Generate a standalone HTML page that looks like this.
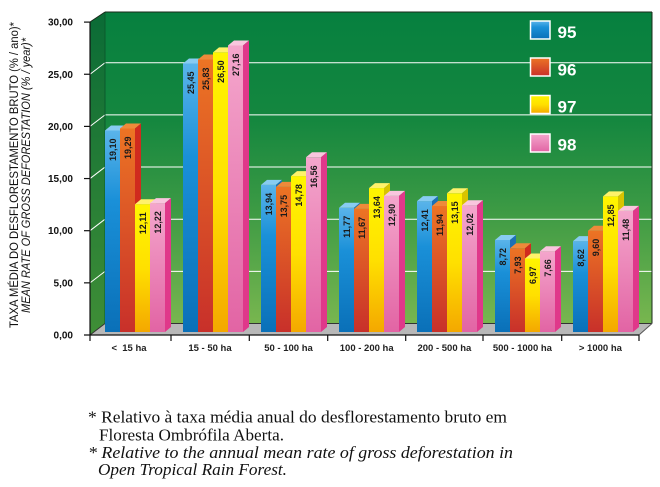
<!DOCTYPE html>
<html><head><meta charset="utf-8"><style>
html,body{margin:0;padding:0;background:#fff;}
svg{display:block;}
.yl{font:bold 10px "Liberation Sans",Arial,sans-serif;fill:#111;text-anchor:end;}
.xl{font:bold 9.5px "Liberation Sans",Arial,sans-serif;fill:#222;text-anchor:middle;}
.bl{font:bold 9px "Liberation Sans",Arial,sans-serif;fill:#1a1a1a;text-anchor:end;}
.lg{font:bold 17px "Liberation Sans",Arial,sans-serif;fill:#fff;}
.ti{font:11.5px "Liberation Sans",Arial,sans-serif;fill:#111;text-anchor:middle;}
.tii{font:italic 11.5px "Liberation Sans",Arial,sans-serif;fill:#111;text-anchor:middle;}
.fn{font:17px "Liberation Serif","Times New Roman",serif;fill:#111;}
.fni{font:italic 17px "Liberation Serif","Times New Roman",serif;fill:#111;}
</style></head><body>
<svg width="660" height="487" viewBox="0 0 660 487" xmlns="http://www.w3.org/2000/svg">
<defs>
<linearGradient id="wall" x1="0" y1="0" x2="0" y2="1">
<stop offset="0" stop-color="#06803f"/><stop offset="0.35" stop-color="#15873f"/><stop offset="0.62" stop-color="#3a9944"/><stop offset="1" stop-color="#78b64f"/>
</linearGradient>
<linearGradient id="side" x1="0" y1="0" x2="0" y2="1">
<stop offset="0" stop-color="#0a6b36"/><stop offset="1" stop-color="#3f8e36"/>
</linearGradient>
<linearGradient id="gb" x1="0" y1="0" x2="0" y2="1">
<stop offset="0" stop-color="#5ab4ea"/><stop offset="0.35" stop-color="#1a90d8"/><stop offset="1" stop-color="#0a70b8"/>
</linearGradient>
<linearGradient id="go" x1="0" y1="0" x2="0" y2="1">
<stop offset="0" stop-color="#ec7424"/><stop offset="1" stop-color="#c8302a"/>
</linearGradient>
<linearGradient id="gy" x1="0" y1="0" x2="0" y2="1">
<stop offset="0" stop-color="#fff500"/><stop offset="0.5" stop-color="#ffe000"/><stop offset="1" stop-color="#f4a800"/>
</linearGradient>
<linearGradient id="gp" x1="0" y1="0" x2="0" y2="1">
<stop offset="0" stop-color="#f4a6cc"/><stop offset="1" stop-color="#e264a4"/>
</linearGradient>
</defs>

<!-- walls -->
<rect x="105" y="12" width="547" height="311.5" fill="url(#wall)"/>
<polygon points="90,22 105,12 105,323.5 90,335" fill="url(#side)"/>
<polygon points="90,335 105,323.5 652,323.5 639,335" fill="#b8b8b8"/>

<!-- gridlines -->
<g stroke="#fff" stroke-width="1">
<line x1="105" y1="271.35" x2="652" y2="271.35"/>
<line x1="105" y1="219.2" x2="652" y2="219.2"/>
<line x1="105" y1="167.05" x2="652" y2="167.05"/>
<line x1="105" y1="114.9" x2="652" y2="114.9"/>
<line x1="105" y1="62.75" x2="652" y2="62.75"/>
<line x1="90" y1="282.85" x2="105" y2="271.35"/>
<line x1="90" y1="230.7" x2="105" y2="219.2"/>
<line x1="90" y1="178.55" x2="105" y2="167.05"/>
<line x1="90" y1="126.4" x2="105" y2="114.9"/>
<line x1="90" y1="74.25" x2="105" y2="62.75"/>
</g>
<g fill="none" stroke-width="1">
<line x1="105" y1="12" x2="105" y2="323.5" stroke="#0a5a2c"/>
<line x1="105" y1="12" x2="652" y2="12" stroke="#1a2a1a"/>
<line x1="652" y1="12" x2="652" y2="323.5" stroke="#1a2a1a"/>
<line x1="105" y1="323.5" x2="652" y2="323.5" stroke="#333"/>
<line x1="90" y1="335" x2="105" y2="323.5" stroke="#333"/>
<line x1="90" y1="22" x2="105" y2="12" stroke="#1a2a1a"/>
<line x1="639" y1="335" x2="652" y2="323.5" stroke="#555"/>
</g>

<!-- bars -->
<g transform="translate(105,130.5)"><rect width="15" height="201.5" fill="url(#gb)"/><polygon points="0,0 6,-5 21,-5 15,0" fill="#88ccf2"/><polygon points="15,0 21,-5 21,196.5 15,201.5" fill="#1c70b4"/><text class="bl" transform="translate(10.8,8) rotate(-90)">19,10</text></g>
<g transform="translate(120,128.5)"><rect width="15" height="203.5" fill="url(#go)"/><polygon points="0,0 6,-5 21,-5 15,0" fill="#ee8a3a"/><polygon points="15,0 21,-5 21,198.5 15,203.5" fill="#d02a1e"/><text class="bl" transform="translate(10.8,8) rotate(-90)">19,29</text></g>
<g transform="translate(135,204.2)"><rect width="15" height="127.8" fill="url(#gy)"/><polygon points="0,0 6,-5 21,-5 15,0" fill="#fff26a"/><polygon points="15,0 21,-5 21,122.8 15,127.8" fill="#d8c400"/><text class="bl" transform="translate(10.8,8) rotate(-90)">12,11</text></g>
<g transform="translate(150,203.1)"><rect width="15" height="128.9" fill="url(#gp)"/><polygon points="0,0 6,-5 21,-5 15,0" fill="#f9c6de"/><polygon points="15,0 21,-5 21,123.9 15,128.9" fill="#e0388a"/><text class="bl" transform="translate(10.8,8) rotate(-90)">12,22</text></g>

<g transform="translate(183,63.5)"><rect width="15" height="268.5" fill="url(#gb)"/><polygon points="0,0 6,-5 21,-5 15,0" fill="#88ccf2"/><polygon points="15,0 21,-5 21,263.5 15,268.5" fill="#1c70b4"/><text class="bl" transform="translate(10.8,8) rotate(-90)">25,45</text></g>
<g transform="translate(198,59.5)"><rect width="15" height="272.5" fill="url(#go)"/><polygon points="0,0 6,-5 21,-5 15,0" fill="#ee8a3a"/><polygon points="15,0 21,-5 21,267.5 15,272.5" fill="#d02a1e"/><text class="bl" transform="translate(10.8,8) rotate(-90)">25,83</text></g>
<g transform="translate(213,52.4)"><rect width="15" height="279.6" fill="url(#gy)"/><polygon points="0,0 6,-5 21,-5 15,0" fill="#fff26a"/><polygon points="15,0 21,-5 21,274.6 15,279.6" fill="#d8c400"/><text class="bl" transform="translate(10.8,8) rotate(-90)">26,50</text></g>
<g transform="translate(228,45.5)"><rect width="15" height="286.5" fill="url(#gp)"/><polygon points="0,0 6,-5 21,-5 15,0" fill="#f9c6de"/><polygon points="15,0 21,-5 21,281.5 15,286.5" fill="#e0388a"/><text class="bl" transform="translate(10.8,8) rotate(-90)">27,16</text></g>

<g transform="translate(261,184.9)"><rect width="15" height="147.1" fill="url(#gb)"/><polygon points="0,0 6,-5 21,-5 15,0" fill="#88ccf2"/><polygon points="15,0 21,-5 21,142.1 15,147.1" fill="#1c70b4"/><text class="bl" transform="translate(10.8,8) rotate(-90)">13,94</text></g>
<g transform="translate(276,186.9)"><rect width="15" height="145.1" fill="url(#go)"/><polygon points="0,0 6,-5 21,-5 15,0" fill="#ee8a3a"/><polygon points="15,0 21,-5 21,140.1 15,145.1" fill="#d02a1e"/><text class="bl" transform="translate(10.8,8) rotate(-90)">13,75</text></g>
<g transform="translate(291,176.1)"><rect width="15" height="155.9" fill="url(#gy)"/><polygon points="0,0 6,-5 21,-5 15,0" fill="#fff26a"/><polygon points="15,0 21,-5 21,150.9 15,155.9" fill="#d8c400"/><text class="bl" transform="translate(10.8,8) rotate(-90)">14,78</text></g>
<g transform="translate(306,157.3)"><rect width="15" height="174.7" fill="url(#gp)"/><polygon points="0,0 6,-5 21,-5 15,0" fill="#f9c6de"/><polygon points="15,0 21,-5 21,169.7 15,174.7" fill="#e0388a"/><text class="bl" transform="translate(10.8,8) rotate(-90)">16,56</text></g>

<g transform="translate(339,207.8)"><rect width="15" height="124.2" fill="url(#gb)"/><polygon points="0,0 6,-5 21,-5 15,0" fill="#88ccf2"/><polygon points="15,0 21,-5 21,119.2 15,124.2" fill="#1c70b4"/><text class="bl" transform="translate(10.8,8) rotate(-90)">11,77</text></g>
<g transform="translate(354,208.9)"><rect width="15" height="123.1" fill="url(#go)"/><polygon points="0,0 6,-5 21,-5 15,0" fill="#ee8a3a"/><polygon points="15,0 21,-5 21,118.1 15,123.1" fill="#d02a1e"/><text class="bl" transform="translate(10.8,8) rotate(-90)">11,67</text></g>
<g transform="translate(369,188.1)"><rect width="15" height="143.9" fill="url(#gy)"/><polygon points="0,0 6,-5 21,-5 15,0" fill="#fff26a"/><polygon points="15,0 21,-5 21,138.9 15,143.9" fill="#d8c400"/><text class="bl" transform="translate(10.8,8) rotate(-90)">13,64</text></g>
<g transform="translate(384,195.9)"><rect width="15" height="136.1" fill="url(#gp)"/><polygon points="0,0 6,-5 21,-5 15,0" fill="#f9c6de"/><polygon points="15,0 21,-5 21,131.1 15,136.1" fill="#e0388a"/><text class="bl" transform="translate(10.8,8) rotate(-90)">12,90</text></g>

<g transform="translate(417,201.1)"><rect width="15" height="130.9" fill="url(#gb)"/><polygon points="0,0 6,-5 21,-5 15,0" fill="#88ccf2"/><polygon points="15,0 21,-5 21,125.9 15,130.9" fill="#1c70b4"/><text class="bl" transform="translate(10.8,8) rotate(-90)">12,41</text></g>
<g transform="translate(432,206)"><rect width="15" height="126" fill="url(#go)"/><polygon points="0,0 6,-5 21,-5 15,0" fill="#ee8a3a"/><polygon points="15,0 21,-5 21,121 15,126" fill="#d02a1e"/><text class="bl" transform="translate(10.8,8) rotate(-90)">11,94</text></g>
<g transform="translate(447,193.3)"><rect width="15" height="138.7" fill="url(#gy)"/><polygon points="0,0 6,-5 21,-5 15,0" fill="#fff26a"/><polygon points="15,0 21,-5 21,133.7 15,138.7" fill="#d8c400"/><text class="bl" transform="translate(10.8,8) rotate(-90)">13,15</text></g>
<g transform="translate(462,205.2)"><rect width="15" height="126.8" fill="url(#gp)"/><polygon points="0,0 6,-5 21,-5 15,0" fill="#f9c6de"/><polygon points="15,0 21,-5 21,121.8 15,126.8" fill="#e0388a"/><text class="bl" transform="translate(10.8,8) rotate(-90)">12,02</text></g>

<g transform="translate(495,240)"><rect width="15" height="92" fill="url(#gb)"/><polygon points="0,0 6,-5 21,-5 15,0" fill="#88ccf2"/><polygon points="15,0 21,-5 21,87 15,92" fill="#1c70b4"/><text class="bl" transform="translate(10.8,8) rotate(-90)">8,72</text></g>
<g transform="translate(510,248.3)"><rect width="15" height="83.7" fill="url(#go)"/><polygon points="0,0 6,-5 21,-5 15,0" fill="#ee8a3a"/><polygon points="15,0 21,-5 21,78.7 15,83.7" fill="#d02a1e"/><text class="bl" transform="translate(10.8,8) rotate(-90)">7,93</text></g>
<g transform="translate(525,258.5)"><rect width="15" height="73.5" fill="url(#gy)"/><polygon points="0,0 6,-5 21,-5 15,0" fill="#fff26a"/><polygon points="15,0 21,-5 21,68.5 15,73.5" fill="#d8c400"/><text class="bl" transform="translate(10.8,8) rotate(-90)">6,97</text></g>
<g transform="translate(540,251.2)"><rect width="15" height="80.8" fill="url(#gp)"/><polygon points="0,0 6,-5 21,-5 15,0" fill="#f9c6de"/><polygon points="15,0 21,-5 21,75.8 15,80.8" fill="#e0388a"/><text class="bl" transform="translate(10.8,8) rotate(-90)">7,66</text></g>

<g transform="translate(573,241.1)"><rect width="15" height="90.9" fill="url(#gb)"/><polygon points="0,0 6,-5 21,-5 15,0" fill="#88ccf2"/><polygon points="15,0 21,-5 21,85.9 15,90.9" fill="#1c70b4"/><text class="bl" transform="translate(10.8,8) rotate(-90)">8,62</text></g>
<g transform="translate(588,230.7)"><rect width="15" height="101.3" fill="url(#go)"/><polygon points="0,0 6,-5 21,-5 15,0" fill="#ee8a3a"/><polygon points="15,0 21,-5 21,96.3 15,101.3" fill="#d02a1e"/><text class="bl" transform="translate(10.8,8) rotate(-90)">9,60</text></g>
<g transform="translate(603,196.4)"><rect width="15" height="135.6" fill="url(#gy)"/><polygon points="0,0 6,-5 21,-5 15,0" fill="#fff26a"/><polygon points="15,0 21,-5 21,130.6 15,135.6" fill="#d8c400"/><text class="bl" transform="translate(10.8,8) rotate(-90)">12,85</text></g>
<g transform="translate(618,210.9)"><rect width="15" height="121.1" fill="url(#gp)"/><polygon points="0,0 6,-5 21,-5 15,0" fill="#f9c6de"/><polygon points="15,0 21,-5 21,116.1 15,121.1" fill="#e0388a"/><text class="bl" transform="translate(10.8,8) rotate(-90)">11,48</text></g>

<!-- axes -->
<g stroke="#111" stroke-width="1.2">
<line x1="90" y1="22" x2="90" y2="335"/>
<line x1="84" y1="335" x2="639" y2="335"/>
<line x1="84" y1="22.1" x2="90" y2="22.1"/>
<line x1="84" y1="74.25" x2="90" y2="74.25"/>
<line x1="84" y1="126.4" x2="90" y2="126.4"/>
<line x1="84" y1="178.55" x2="90" y2="178.55"/>
<line x1="84" y1="230.7" x2="90" y2="230.7"/>
<line x1="84" y1="282.85" x2="90" y2="282.85"/>
<line x1="90" y1="335" x2="90" y2="341"/>
<line x1="171" y1="335" x2="171" y2="341"/>
<line x1="249.3" y1="335" x2="249.3" y2="341"/>
<line x1="327.7" y1="335" x2="327.7" y2="341"/>
<line x1="405.7" y1="335" x2="405.7" y2="341"/>
<line x1="483" y1="335" x2="483" y2="341"/>
<line x1="561.7" y1="335" x2="561.7" y2="341"/>
<line x1="639" y1="335" x2="639" y2="341"/>
</g>

<!-- y tick labels -->
<text class="yl" x="73" y="25.6">30,00</text>
<text class="yl" x="73" y="77.8">25,00</text>
<text class="yl" x="73" y="129.9">20,00</text>
<text class="yl" x="73" y="182.1">15,00</text>
<text class="yl" x="73" y="234.2">10,00</text>
<text class="yl" x="73" y="286.4">5,00</text>
<text class="yl" x="73" y="338.5">0,00</text>

<!-- x labels -->
<text class="xl" x="129" y="351" xml:space="preserve">&lt;  15 ha</text>
<text class="xl" x="210" y="351">15 - 50 ha</text>
<text class="xl" x="288.5" y="351">50 - 100 ha</text>
<text class="xl" x="366.7" y="351">100 - 200 ha</text>
<text class="xl" x="444.4" y="351">200 - 500 ha</text>
<text class="xl" x="522.4" y="351">500 - 1000 ha</text>
<text class="xl" x="600.4" y="351">&gt; 1000 ha</text>

<!-- legend -->
<g stroke="#fff" stroke-width="1.5">
<rect x="530.5" y="21" width="19.5" height="18" fill="url(#gb)"/>
<rect x="530.5" y="58" width="19.5" height="18" fill="url(#go)"/>
<rect x="530.5" y="95.5" width="19.5" height="18" fill="url(#gy)"/>
<rect x="530.5" y="134" width="19.5" height="18" fill="url(#gp)"/>
</g>
<text class="lg" x="557.5" y="38">95</text>
<text class="lg" x="557.5" y="75.5">96</text>
<text class="lg" x="557.5" y="112.5">97</text>
<text class="lg" x="557.5" y="150.5">98</text>

<!-- y axis title -->
<text class="ti" transform="translate(18,175) rotate(-90)" textLength="306" lengthAdjust="spacingAndGlyphs">TAXA MÉDIA DO DESFLORESTAMENTO BRUTO (% / ano)*</text>
<text class="tii" transform="translate(30,175.5) rotate(-90)" textLength="275" lengthAdjust="spacingAndGlyphs">MEAN RATE OF GROSS DEFORESTATION (% / year)*</text>

<!-- footnote -->
<text class="fn" x="88" y="422.5" textLength="419" lengthAdjust="spacingAndGlyphs">* Relativo à taxa média anual do desflorestamento bruto em</text>
<text class="fn" x="99" y="440.5" textLength="185" lengthAdjust="spacingAndGlyphs">Floresta Ombrófila Aberta.</text>
<text class="fni" x="88" y="458" textLength="425" lengthAdjust="spacingAndGlyphs">* Relative to the annual mean rate of gross deforestation in</text>
<text class="fni" x="98" y="475" textLength="189" lengthAdjust="spacingAndGlyphs">Open Tropical Rain Forest.</text>
</svg>
</body></html>
